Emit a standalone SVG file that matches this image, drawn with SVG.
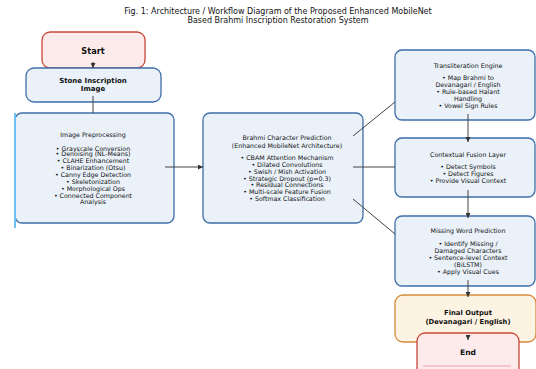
<svg xmlns="http://www.w3.org/2000/svg" width="536" height="369" viewBox="0 0 536 369">
<defs>
<style>
text{font-family:"DejaVu Sans","Liberation Sans",sans-serif;fill:#111;text-anchor:middle;dominant-baseline:central}
.t{font-size:8px}
.b{font-weight:bold}
.s{font-size:6.3px}
.blue{fill:#eaf1f9;stroke:#3d6fa8;stroke-width:1.3}
.red{fill:#fdeaea;stroke:#c8473a;stroke-width:1.3}
.org{fill:#fdf3e2;stroke:#d28a3e;stroke-width:1.3}
.c{stroke:#444;stroke-width:1;fill:none}
</style>
<marker id="ah" viewBox="0 0 6 6" refX="6" refY="3" markerWidth="5" markerHeight="5" orient="auto">
<path d="M0,0 L6,3 L0,6 z" fill="#333"/>
</marker>
</defs>
<rect width="536" height="369" fill="#fff"/>
<g id="title">
<text class="t" x="278" y="11">Fig. 1: Architecture / Workflow Diagram of the Proposed Enhanced MobileNet</text>
<text class="t" x="278" y="20.5">Based Brahmi Inscription Restoration System</text>
</g>
<g id="start">
<rect class="red" x="42" y="32" width="103" height="36" rx="8"/>
<text class="b" x="93" y="51" font-size="8.2">Start</text>
</g>
<g id="stone">
<rect class="blue" x="26" y="68" width="135" height="34" rx="8"/>
<text class="b" x="93" y="81" font-size="7">Stone Inscription</text>
<text class="b" x="93" y="89" font-size="7">Image</text>
</g>
<g id="preprocess">
<rect class="blue" x="15" y="113" width="159" height="110" rx="7"/>
<line x1="15" y1="113" x2="15" y2="228" stroke="#6cc0f2" stroke-width="2"/>
<text class="s" x="93" y="134">Image Preprocessing</text>
<text class="s" x="93" y="148">• Grayscale Conversion</text>
<text class="s" x="93" y="153.5">• Denoising (NL-Means)</text>
<text class="s" x="93" y="160.5">• CLAHE Enhancement</text>
<text class="s" x="93" y="167.5">• Binarization (Otsu)</text>
<text class="s" x="93" y="174.5">• Canny Edge Detection</text>
<text class="s" x="93" y="181">• Skeletonization</text>
<text class="s" x="93" y="188">• Morphological Ops</text>
<text class="s" x="93" y="195">• Connected Component</text>
<text class="s" x="93" y="201.5">Analysis</text>
</g>
<g id="brahmi">
<rect class="blue" x="203" y="113" width="160" height="110" rx="7"/>
<text class="s" x="287" y="137">Brahmi Character Prediction</text>
<text class="s" x="287" y="145">(Enhanced MobileNet Architecture)</text>
<text class="s" x="287" y="157">• CBAM Attention Mechanism</text>
<text class="s" x="287" y="164">• Dilated Convolutions</text>
<text class="s" x="287" y="171">• Swish / Mish Activation</text>
<text class="s" x="287" y="178">• Strategic Dropout (p=0.3)</text>
<text class="s" x="287" y="184.5">• Residual Connections</text>
<text class="s" x="287" y="191.5">• Multi-scale Feature Fusion</text>
<text class="s" x="287" y="198">• Softmax Classification</text>
</g>
<g id="translit">
<rect class="blue" x="395" y="50" width="140" height="70" rx="7"/>
<text class="s" x="468" y="65">Transliteration Engine</text>
<text class="s" x="468" y="77">• Map Brahmi to</text>
<text class="s" x="468" y="84">Devanagari / English</text>
<text class="s" x="468" y="91">• Rule-based Halant</text>
<text class="s" x="468" y="98">Handling</text>
<text class="s" x="468" y="105">• Vowel Sign Rules</text>
</g>
<g id="fusion">
<rect class="blue" x="395" y="138" width="140" height="59" rx="7"/>
<text class="s" x="468" y="154">Contextual Fusion Layer</text>
<text class="s" x="468" y="166">• Detect Symbols</text>
<text class="s" x="468" y="173">• Detect Figures</text>
<text class="s" x="468" y="180">• Provide Visual Context</text>
</g>
<g id="missing">
<rect class="blue" x="395" y="216" width="140" height="70" rx="7"/>
<text class="s" x="468" y="230">Missing Word Prediction</text>
<text class="s" x="468" y="243">• Identify Missing /</text>
<text class="s" x="468" y="250">Damaged Characters</text>
<text class="s" x="468" y="257">• Sentence-level Context</text>
<text class="s" x="468" y="264">(BiLSTM)</text>
<text class="s" x="468" y="271">• Apply Visual Cues</text>
</g>
<g id="final">
<rect class="org" x="395" y="295" width="141" height="47" rx="8"/>
<text class="b" x="468" y="313" font-size="6.8">Final Output</text>
<text class="b" x="468" y="322" font-size="6.8">(Devanagari / English)</text>
</g>
<g id="end">
<rect class="red" x="417" y="333" width="102" height="45" rx="8"/>
<line x1="423" y1="366" x2="511" y2="366" stroke="#f7c4cf" stroke-width="2"/>
<text class="b" x="468" y="352" font-size="7.6">End</text>
</g>
<g id="connectors">
<line class="c" x1="93" y1="62" x2="93" y2="68" marker-end="url(#ah)"/>
<line class="c" x1="93" y1="96" x2="93" y2="113"/>
<line class="c" x1="165" y1="167" x2="203" y2="167" marker-end="url(#ah)"/>
<line class="c" x1="353" y1="136" x2="395" y2="102"/>
<line class="c" x1="353" y1="167" x2="395" y2="167"/>
<line class="c" x1="353" y1="199" x2="395" y2="234"/>
<line class="c" x1="468" y1="114" x2="468" y2="142" marker-end="url(#ah)"/>
<line class="c" x1="468" y1="190" x2="468" y2="218" marker-end="url(#ah)"/>
<line class="c" x1="468" y1="280" x2="468" y2="297" marker-end="url(#ah)"/>
<line class="c" x1="468" y1="335" x2="468" y2="340" marker-end="url(#ah)"/>
</g>
</svg>
